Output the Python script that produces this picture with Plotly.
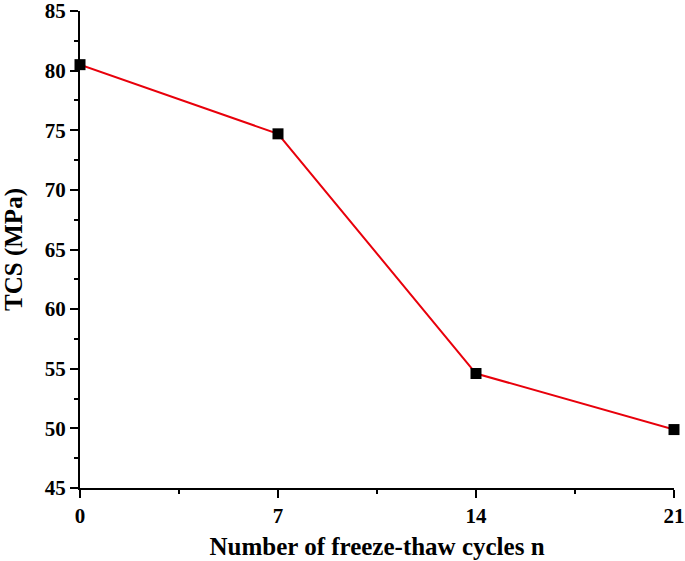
import plotly.graph_objects as go

cycles = [0, 7, 14, 21]
tcs = [80.5, 74.7, 54.6, 49.9]
x_ticks = [0, 7, 14, 21]
y_ticks = [45, 50, 55, 60, 65, 70, 75, 80, 85]

fig = go.Figure()
fig.add_trace(go.Scatter(
    x=cycles, y=tcs, mode="lines+markers",
    line=dict(color="#e8000b", width=2),
    marker=dict(symbol="square", size=11, color="black"),
    cliponaxis=False, showlegend=False,
))

font = "Liberation Serif"
axis_common = dict(
    showline=True, linecolor="black", linewidth=2,
    ticks="outside", ticklen=8, tickwidth=2, tickcolor="black",
    showgrid=False, zeroline=False, automargin=False,
    ticklabeloverflow="allow",
    tickfont=dict(family=font, size=21, color="black", weight="bold"),
)
fig.update_xaxes(
    range=[0, 21], tickvals=x_ticks, ticktext=[f"<b>{v}</b>" for v in x_ticks],
    minor=dict(ticks="outside", ticklen=4, tickwidth=2, tickcolor="black", dtick=3.5, tick0=0),
    title=dict(text="<b>Number of freeze-thaw cycles n</b>", font=dict(family=font, size=25, color="black"), standoff=10),
    **axis_common,
)
fig.update_yaxes(
    range=[45, 85], tickvals=y_ticks, ticktext=[f"<b>{v}</b>" for v in y_ticks],
    minor=dict(ticks="outside", ticklen=4, tickwidth=2, tickcolor="black", dtick=2.5, tick0=45),
    title=dict(text="<b>TCS (MPa)</b>", font=dict(family=font, size=25, color="black"), standoff=16),
    **axis_common,
)
fig.update_layout(
    width=685, height=561,
    margin=dict(l=80, r=11, t=11, b=73),
    plot_bgcolor="white", paper_bgcolor="white",
)
fig.write_html("out.html", config={"displayModeBar": False},
               post_script="document.body.style.margin='0';")
